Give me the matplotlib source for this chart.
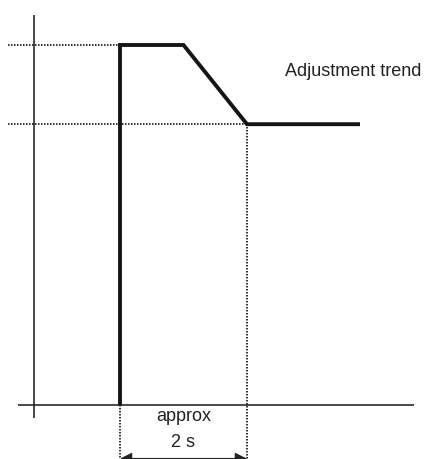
import matplotlib.pyplot as plt

plt.rcParams['font.family'] = ['Liberation Sans', 'DejaVu Sans']

# signal: step up, hold, ramp down over ~2 s, then settle
t = [0, 0, 1.0, 2.0, 3.78]
level = [0, 100, 100, 78, 78]

peak = 100
settled = 78
t_settle = 2.0

fig = plt.figure(figsize=(4.33, 4.59), dpi=100)
ax = fig.add_axes([0, 0, 1, 1])
ax.set_xlim(-1.89, 4.93)
ax.set_ylim(-15, 112.5)
ax.axis('off')

# axes lines
ax.plot([-1.35, -1.35], [-3.6, 108.3], color='#2a2a2a', lw=1.2, solid_capstyle='butt')
ax.plot([-1.61, 4.63], [0, 0], color='#2a2a2a', lw=1.2, solid_capstyle='butt')

# dotted guide lines
dot = dict(color='#111111', lw=1.2, linestyle=(0, (0.9, 0.9)))
ax.plot([-1.76, 0], [peak, peak], **dot)
ax.plot([-1.76, t_settle], [settled, settled], **dot)
ax.plot([0, 0], [0, -15], **dot)
ax.plot([t_settle, t_settle], [settled, -15], **dot)

# the signal
ax.plot(t, level, color='#151515', lw=2.8, solid_joinstyle='miter', solid_capstyle='butt')

# duration arrow
ax.annotate('', xy=(0, -14.9), xytext=(t_settle, -14.9),
            arrowprops=dict(arrowstyle='<|-|>', color='#222222', lw=1.0,
                            mutation_scale=18, shrinkA=0, shrinkB=0))

ax.text(t_settle / 2, -3.2, 'approx', ha='center', va='center', fontsize=13, color='#222222')
ax.text(t_settle / 2, -10.3, '2 s', ha='center', va='center', fontsize=13, color='#222222')
ax.text(2.6, 92.5, 'Adjustment trend', ha='left', va='center', fontsize=13, color='#222222')

fig.savefig('out.png', dpi=100)
